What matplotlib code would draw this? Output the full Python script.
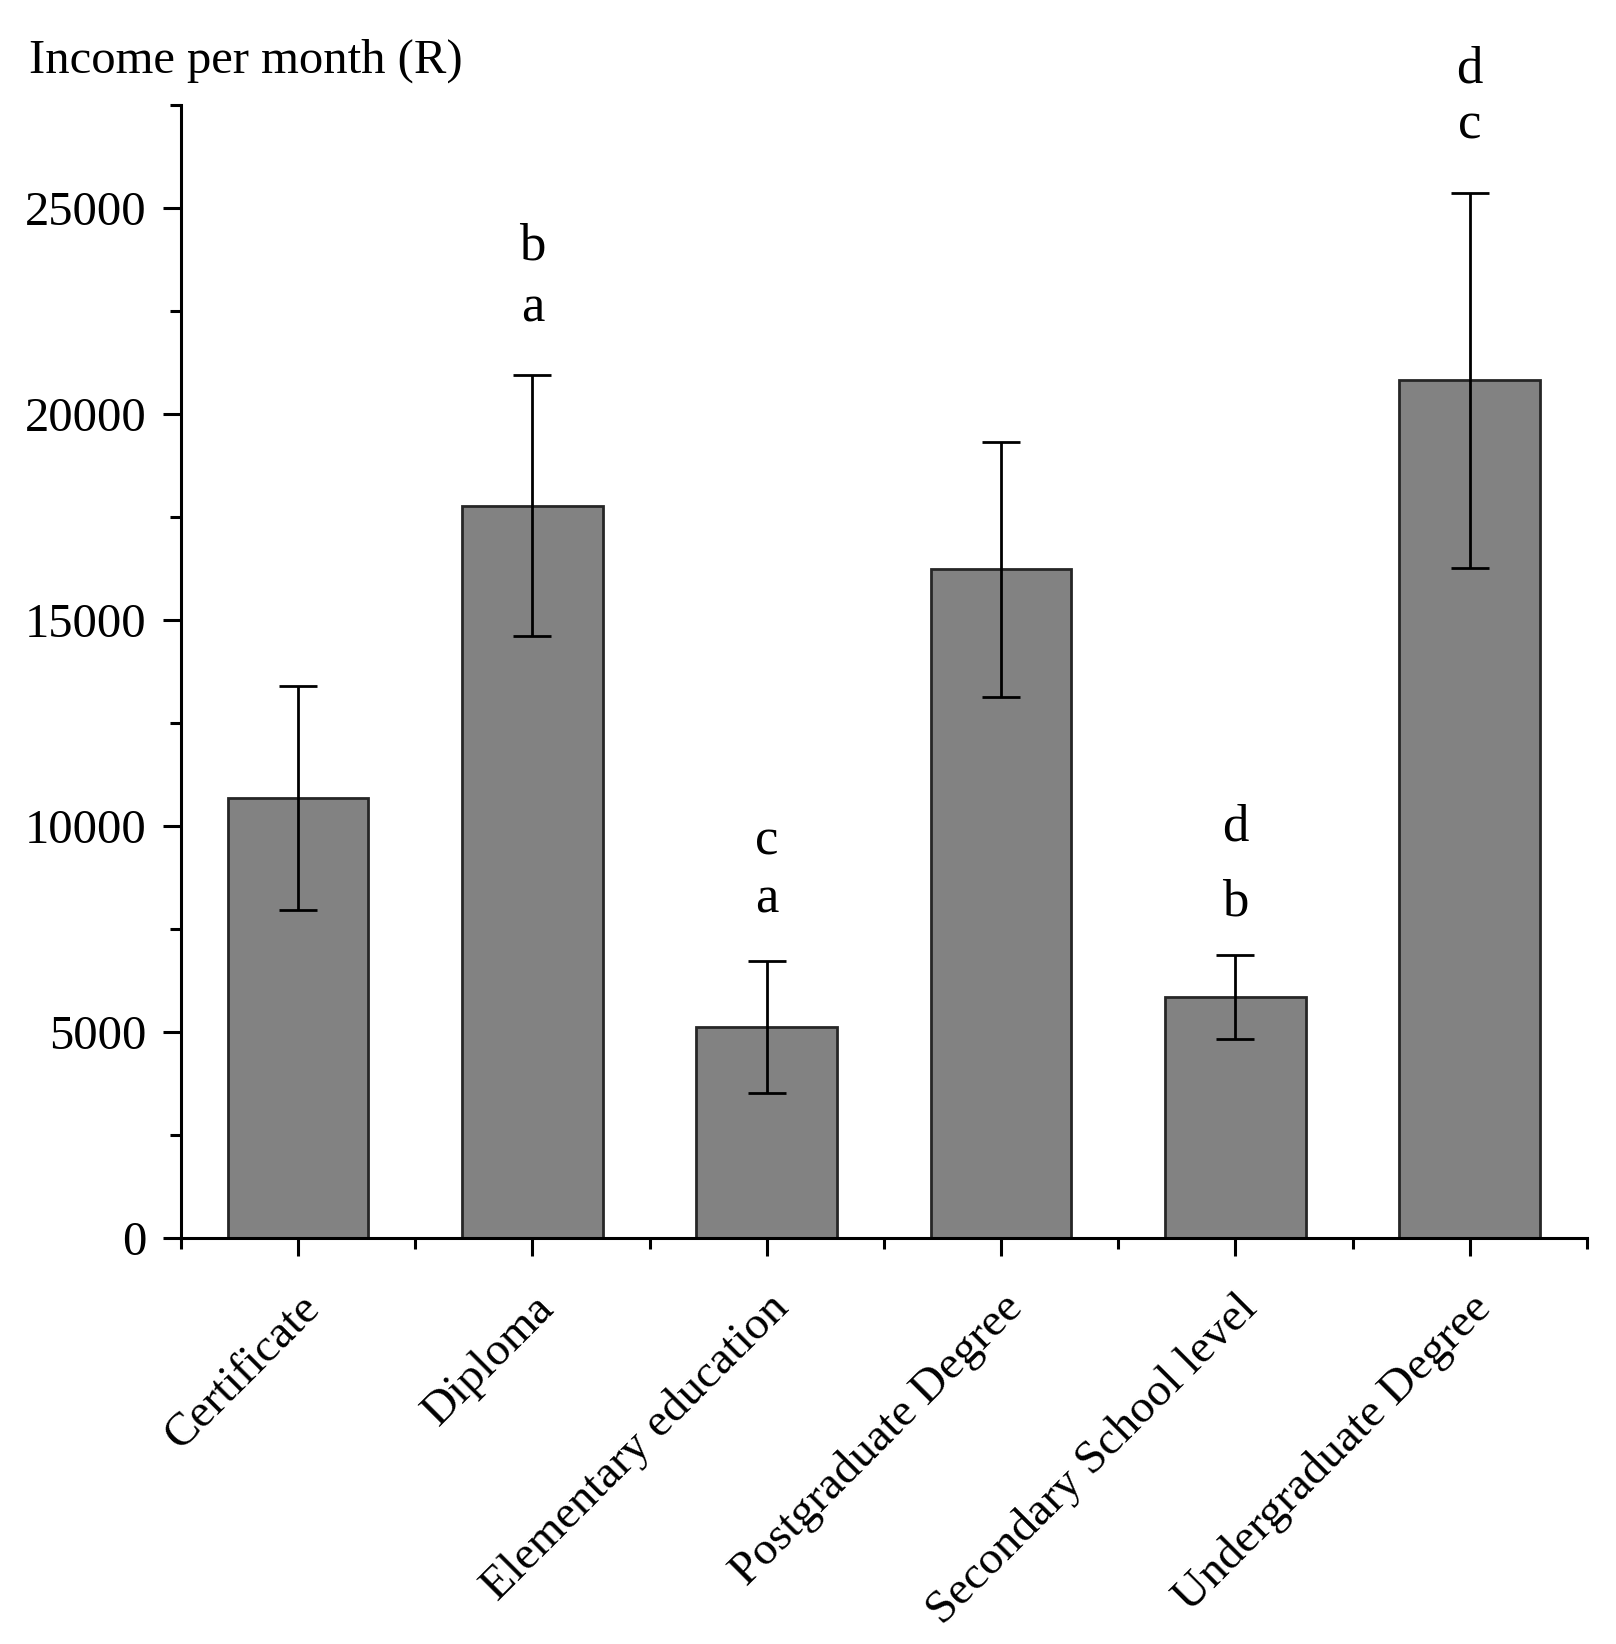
import matplotlib
matplotlib.use("Agg")
import matplotlib.pyplot as plt
from matplotlib.ticker import MultipleLocator
import numpy as np

categories = ["Certificate", "Diploma", "Elementary education", "Postgraduate Degree",
              "Secondary School level", "Undergraduate Degree"]
income = [10680, 17780, 5120, 16230, 5850, 20820]
errors = [2720, 3170, 1600, 3100, 1010, 4560]
# significance letters: (category index, letter, baseline y)
letters_cat = [1, 1, 2, 2, 4, 4, 5, 5]
letters_txt = ["b", "a", "c", "a", "d", "b", "d", "c"]
letters_y = [23750, 22250, 9300, 7900, 9650, 7840, 28040, 26700]

plt.rcParams['font.family'] = ['Liberation Serif', 'DejaVu Serif']

fig = plt.figure(figsize=(16.16, 16.44), dpi=100)
ax = fig.add_axes([0.112, 0.247, 0.870, 0.689])

x = np.arange(len(categories))
ax.bar(x, income, width=0.6, color="#828282", edgecolor="#262626", linewidth=2, zorder=2)
ax.errorbar(x, income, yerr=errors, fmt="none", ecolor="black", elinewidth=2,
            capsize=14, capthick=2, zorder=3)

for ci, t, yy in zip(letters_cat, letters_txt, letters_y):
    ax.text(ci, yy, t, ha="center", va="baseline", fontsize=38)

ax.set_xlim(-0.5, 5.5)
ax.set_ylim(0, 27500)
ax.yaxis.set_major_locator(MultipleLocator(5000))
ax.yaxis.set_minor_locator(MultipleLocator(2500))
ax.set_xticks(x)
ax.set_xticks(np.arange(-0.5, 6.0, 1.0), minor=True)
ax.set_xticklabels(categories, rotation=45, ha="right", rotation_mode="anchor", fontsize=34)
ax.tick_params(axis="y", labelsize=35)
ax.tick_params(which="major", direction="out", length=13, width=2.2, pad=12)
ax.tick_params(which="minor", direction="out", length=8, width=2.2)
ax.tick_params(axis="x", which="major", pad=22)

for s in ["top", "right"]:
    ax.spines[s].set_visible(False)
for s in ["left", "bottom"]:
    ax.spines[s].set_linewidth(2.2)

fig.text(0.018, 0.963, "Income per month (R)", fontsize=35, ha="left", va="center")

fig.savefig("out.png", dpi=100, facecolor="white")
